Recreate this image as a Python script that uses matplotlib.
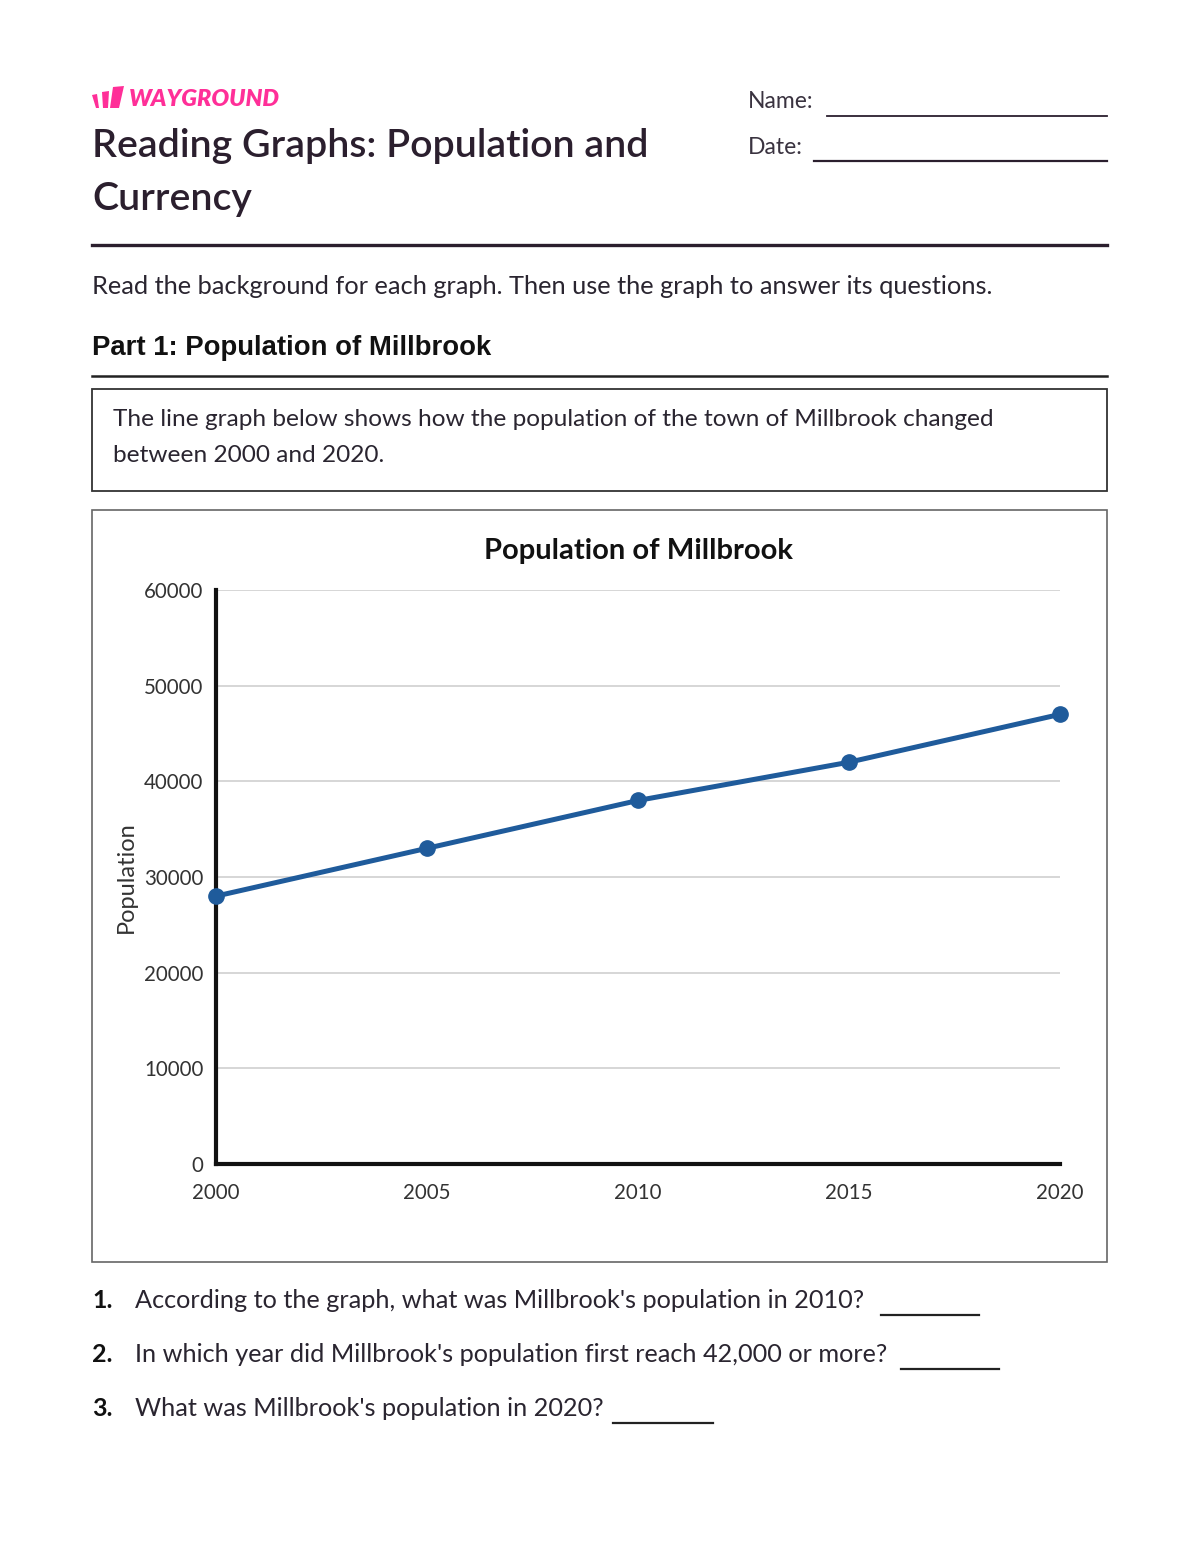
import matplotlib
matplotlib.use("Agg")
import matplotlib.pyplot as plt
from matplotlib.patches import Rectangle, Polygon
from matplotlib.lines import Line2D

# ---- data ----
years = [2000, 2005, 2010, 2015, 2020]
population = [28000, 33000, 38000, 42000, 47000]
y_ticks = [0, 10000, 20000, 30000, 40000, 50000, 60000]
x_ticks = [2000, 2005, 2010, 2015, 2020]
chart_title = "Population of Millbrook"
y_label = "Population"
questions = [
    "According to the graph, what was Millbrook's population in 2010?",
    "In which year did Millbrook's population first reach 42,000 or more?",
    "What was Millbrook's population in 2020?",
]

W, H = 1200, 1552
fig = plt.figure(figsize=(W / 100, H / 100), dpi=100)
fig.patch.set_facecolor("white")

BODY = ["Lato", "DejaVu Sans"]
DARK = "#2b1f2e"
TXT = "#2a2530"
PINK = "#ff2f98"


def fx(x):
    return x / W


def fy(y):
    return 1 - y / H


def T(x, y, s, **kw):
    kw.setdefault("family", BODY)
    kw.setdefault("va", "center")
    kw.setdefault("color", TXT)
    return fig.text(fx(x), fy(y), s, **kw)


def hline(x0, x1, y, lw=1.5, color=DARK):
    fig.add_artist(Line2D([fx(x0), fx(x1)], [fy(y), fy(y)], lw=lw,
                          color=color, transform=fig.transFigure))


def rect(x0, y0, x1, y1, lw=1.2, ec="#333333"):
    fig.add_artist(Rectangle((fx(x0), fy(y1)), fx(x1) - fx(x0), fy(y0) - fy(y1),
                             fill=False, lw=lw, ec=ec, transform=fig.transFigure))


# ---- logo ----
bars = [
    [(92, 95), (97, 94), (99, 108), (96, 108)],
    [(102, 92), (109, 91), (108, 108), (103, 108)],
    [(113, 87), (124, 86), (119, 108), (110, 108)],
]
for pts in bars:
    fig.add_artist(Polygon([(fx(a), fy(b)) for a, b in pts], closed=True,
                           fc=PINK, ec="none", transform=fig.transFigure))
T(129, 99, "WAYGROUND", fontsize=16.8, fontweight="heavy", style="italic",
  color=PINK, family=["Lato", "DejaVu Sans"])

# ---- header ----
T(92, 146, "Reading Graphs: Population and", fontsize=28.3, color=DARK,
  fontweight="semibold")
T(92, 199, "Currency", fontsize=28.3, color=DARK, fontweight="semibold")
T(748, 102, "Name:", fontsize=16.5, color="#3a3340")
hline(827, 1107, 116, lw=1.3)
T(748, 147, "Date:", fontsize=16.5, color="#3a3340")
hline(814, 1107, 161, lw=1.6)
hline(92, 1107, 245, lw=2.4)

T(92, 286, "Read the background for each graph. Then use the graph to answer its questions.",
  fontsize=18.3)

T(92, 348, "Part 1: Population of Millbrook", fontsize=19.8, fontweight="bold",
  family=["Liberation Sans", "DejaVu Sans"], color="#111111")
hline(92, 1107, 376, lw=1.8, color="#222222")

rect(92, 389, 1107, 491, lw=1.3, ec="#333333")
T(113, 419, "The line graph below shows how the population of the town of Millbrook changed",
  fontsize=17.6)
T(113, 456, "between 2000 and 2020.", fontsize=17.6)

# ---- chart ----
rect(92, 510, 1107, 1262, lw=1.2, ec="#666666")
ax = fig.add_axes([fx(216), fy(1164), fx(1060) - fx(216), fy(590) - fy(1164)])
ax.set_xlim(2000, 2020)
ax.set_ylim(0, 60000)
ax.set_yticks(y_ticks)
ax.set_xticks(x_ticks)
ax.set_yticklabels([str(v) for v in y_ticks], family=BODY, fontsize=14.8, color="#333333")
ax.set_xticklabels([str(v) for v in x_ticks], family=BODY, fontsize=14.8, color="#333333")
ax.tick_params(axis="both", length=0)
ax.tick_params(axis="y", pad=9)
ax.tick_params(axis="x", pad=14)
ax.grid(axis="y", color="#d0d0d0", lw=1.2)
ax.set_axisbelow(True)
for s in ["top", "right"]:
    ax.spines[s].set_visible(False)
for s in ["left", "bottom"]:
    ax.spines[s].set_linewidth(3)
    ax.spines[s].set_color("#111111")
    ax.spines[s].set_zorder(2)
ax.plot(years, population, color="#1f5b9b", lw=3.6, marker="o", markersize=11,
        clip_on=False, zorder=3, solid_capstyle="round")
T(638, 551, chart_title, fontsize=21, fontweight="bold", ha="center", color="#111111")
T(126, 877, y_label, fontsize=17, rotation=90, ha="center", color="#333333")

# ---- questions ----
q_y = [1300, 1354, 1408]
blank = [(881, 979), (901, 999), (613, 713)]
for i, (q, y, (b0, b1)) in enumerate(zip(questions, q_y, blank)):
    T(92, y, f"{i + 1}.", fontsize=18, fontweight="bold", color="#111111")
    T(135, y, q, fontsize=18.2)
    hline(b0, b1, y + 15, lw=1.6, color="#222222")

fig.savefig("out.png", dpi=100, facecolor="white")
